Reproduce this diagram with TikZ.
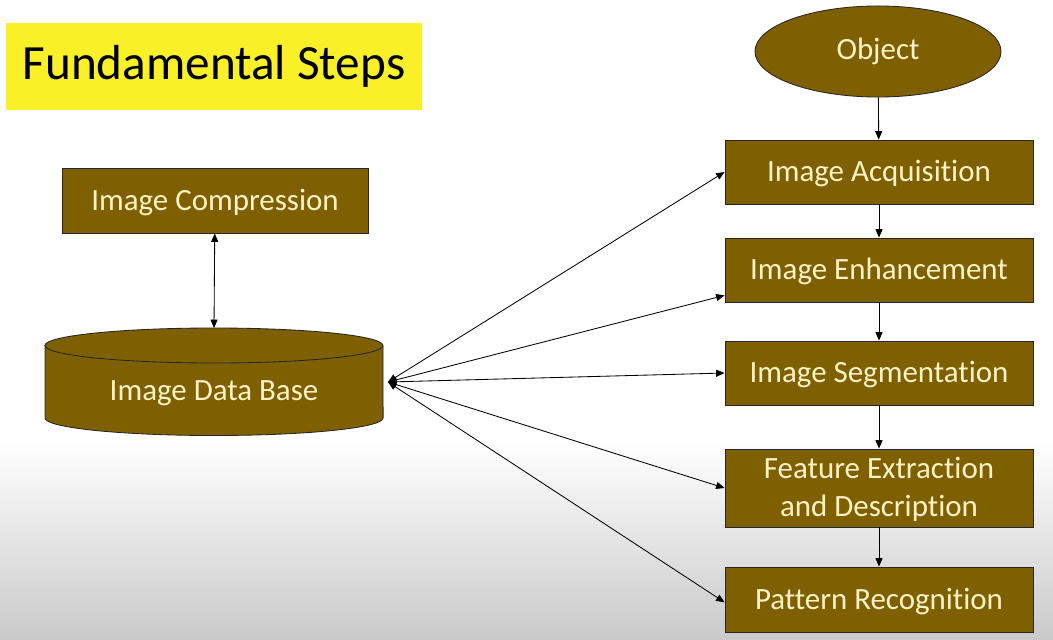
\documentclass[tikz,border=0pt]{standalone}
\usepackage{fontspec}
\setmainfont[Ligatures=NoCommon]{Carlito}
\usetikzlibrary{arrows.meta, shapes.geometric}
\definecolor{stepfill}{RGB}{127,96,0}
\definecolor{steptext}{RGB}{255,242,200}
\definecolor{titlefill}{RGB}{250,240,40}

\begin{document}
\begin{tikzpicture}[x=0.025cm, y=-0.025cm,
>={Triangle[length=6pt,width=5pt]},
every edge/.style = {draw=black, line width=0.6pt},
 stepbox/.style = {rectangle, draw=black!85, line width=0.6pt,
      fill=stepfill, text=steptext, align=center,
      font=\fontsize{22}{27}\selectfont, text depth=0.3ex,
      minimum width=7.7cm, minimum height=1.6cm, inner sep=0pt},
 titlebox/.style = {rectangle, fill=titlefill, text=black,
      font=\fontsize{35}{40}\selectfont,
      minimum width=10.4cm, minimum height=2.175cm}
                    ]
% background
\fill[white] (0,0) rectangle (1053,440);
\shade[top color=white, bottom color=black!21] (0,440) rectangle (1053,639);
% title
\node (title) [titlebox]    at (214, 66.5) {Fundamental Steps};
% data base cylinder
\filldraw[fill=stepfill, draw=black!85, line width=0.6pt]
   (45,345.5) -- (45,418)
   arc[start angle=180, end angle=360, x radius=4.225cm, y radius=0.4375cm]
   -- (383,345.5)
   arc[start angle=0, end angle=180, x radius=4.225cm, y radius=0.4375cm]
   -- cycle;
\draw[black!85, line width=0.6pt] (45,345.5)
   arc[start angle=180, end angle=360, x radius=4.225cm, y radius=0.4375cm];
\node (db) [text=steptext, font=\fontsize{22}{27}\selectfont]
                            at (214, 393) {Image Data Base};
\coordinate (dbT) at (214, 328);
\coordinate (dbR) at (388, 382);
% boxes
\node (comp) [stepbox, minimum width=7.65cm, minimum height=1.625cm]
                            at (215, 200.5) {Image Compression};
\node (obj) [ellipse, draw=black!85, line width=0.6pt, fill=stepfill,
      text=steptext, font=\fontsize{22}{27}\selectfont, inner sep=0pt,
      minimum width=6.15cm, minimum height=2.275cm]
                            at (878, 51.5) {Object};
\node (acq) [stepbox]       at (879, 172) {Image Acquisition};
\node (enh) [stepbox]       at (879, 270) {Image Enhancement};
\node (seg) [stepbox]       at (879, 373) {Image Segmentation};
\node (feat) [stepbox, minimum height=1.95cm]
                            at (879, 488) {Feature Extraction\\and Description};
\node (pat) [stepbox, minimum height=1.625cm]
                            at (879, 599.5) {Pattern Recognition};
 %
\path   (comp) edge[<->] (dbT)
        (obj)  edge[->]  (acq)
        (acq)  edge[->]  (enh)
        (enh)  edge[->]  (seg)
        (seg)  edge[->]  (feat)
        (feat) edge[->]  (pat)
        (dbR)  edge[<->] (acq.west)
        (dbR)  edge[<->] ([yshift=5pt]enh.south west)
        (dbR)  edge[<->] (seg.west)
        (dbR)  edge[<->] (feat.west)
        (dbR)  edge[<->] ([yshift=-2pt]pat.west);
\end{tikzpicture}
\end{document}
